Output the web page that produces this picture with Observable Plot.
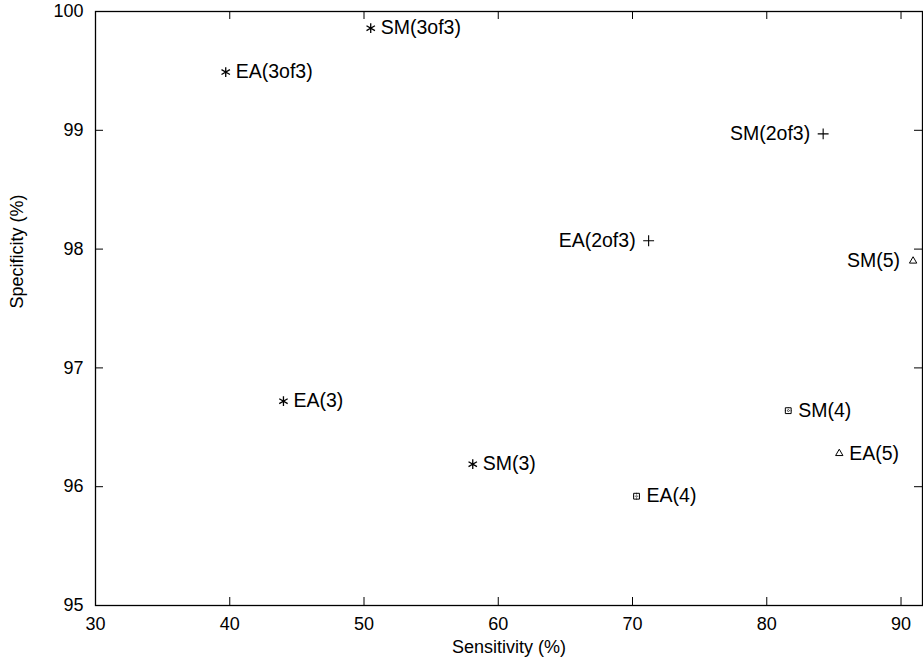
<!DOCTYPE html>
<html>
<head>
<meta charset="utf-8">
<script src="https://cdn.jsdelivr.net/npm/d3@7"></script>
<script src="https://cdn.jsdelivr.net/npm/@observablehq/plot@0.6"></script>
<style>
  html, body { margin: 0; padding: 0; background: white; }
</style>
</head>
<body>
<div id="chart"></div>
<script>
const labels = ["SM(3of3)", "EA(3of3)", "SM(2of3)", "EA(2of3)", "SM(5)", "EA(3)", "SM(3)", "SM(4)", "EA(5)", "EA(4)"];
const sensitivity = [50.5, 39.7, 84.2, 71.2, 90.9, 44.0, 58.1, 81.6, 85.4, 70.3];
const specificity = [99.86, 99.49, 98.97, 98.07, 97.90, 96.72, 96.19, 96.64, 96.28, 95.92];
const markerType = ["asterisk", "asterisk", "plus", "plus", "triangle", "asterisk", "asterisk", "box", "triangle", "box"];
const labelSide = ["right", "right", "left", "left", "left", "right", "right", "right", "right", "right"];
const xTicks = [30, 40, 50, 60, 70, 80, 90];
const yTicks = [95, 96, 97, 98, 99, 100];
const xTitle = "Sensitivity (%)";
const yTitle = "Specificity (%)";

const points = labels.map((l, i) => ({label: l, x: sensitivity[i], y: specificity[i], marker: markerType[i], side: labelSide[i]}));

const W = 923, H = 664;
const mL = 95, mR = 1, mT = 11, mB = 59;
const plotW = W - mL - mR, plotH = H - mT - mB;
const tickLen = 8;
const font = "'Liberation Sans', Arial, Helvetica, sans-serif";

const chart = Plot.plot({
  width: W, height: H,
  marginLeft: mL, marginRight: mR, marginTop: mT, marginBottom: mB,
  style: {fontFamily: font, fontSize: "18px", background: "white", color: "black"},
  x: {domain: [30, 91.6], label: null},
  y: {domain: [95, 100], label: null},
  marks: [
    Plot.axisX(xTicks, {tickSize: 0, tickPadding: 12, fontSize: 18, label: null, tickFormat: d => d}),
    Plot.axisY(yTicks, {tickSize: 0, tickPadding: 12, fontSize: 18, label: null, tickFormat: d => d}),
    Plot.tickX(xTicks, {x: d => d, insetTop: plotH - tickLen, stroke: "black", strokeWidth: 1}),
    Plot.tickX(xTicks, {x: d => d, insetBottom: plotH - tickLen, stroke: "black", strokeWidth: 1}),
    Plot.tickY(yTicks, {y: d => d, insetRight: plotW - tickLen, stroke: "black", strokeWidth: 1}),
    Plot.tickY(yTicks, {y: d => d, insetLeft: plotW - tickLen, stroke: "black", strokeWidth: 1}),
    Plot.frame({stroke: "black", strokeWidth: 1.3}),
    Plot.dot(points.filter(d => d.marker === "asterisk"), {x: "x", y: "y", symbol: "asterisk", r: 4.6, stroke: "black", strokeWidth: 1.3}),
    Plot.dot(points.filter(d => d.marker === "plus"), {x: "x", y: "y", symbol: "plus", r: 3.6, stroke: "black", strokeWidth: 1.1}),
    Plot.dot(points.filter(d => d.marker === "triangle"), {x: "x", y: "y", symbol: "triangle2", r: 3.5, stroke: "black", strokeWidth: 1}),
    Plot.dot(points.filter(d => d.marker === "box"), {x: "x", y: "y", symbol: "square2", r: 3.7, stroke: "black", strokeWidth: 1}),
    Plot.dot(points.filter(d => d.marker === "box"), {x: "x", y: "y", symbol: "plus", r: 2.3, stroke: "black", strokeWidth: 0.8, strokeDasharray: "1,1"}),
    Plot.text(points.filter(d => d.side === "right"), {x: "x", y: "y", text: "label", textAnchor: "start", dx: 10, fontSize: 19.5, fill: "black"}),
    Plot.text(points.filter(d => d.side === "left"), {x: "x", y: "y", text: "label", textAnchor: "end", dx: -13, fontSize: 19.5, fill: "black"}),
    Plot.text([xTitle], {frameAnchor: "bottom", text: d => d, dy: 47, fontSize: 18, fill: "black"}),
    Plot.text([yTitle], {frameAnchor: "left", text: d => d, dx: -78, rotate: -90, fontSize: 18, fill: "black"})
  ]
});
document.getElementById("chart").appendChild(chart);
</script>
</body>
</html>
